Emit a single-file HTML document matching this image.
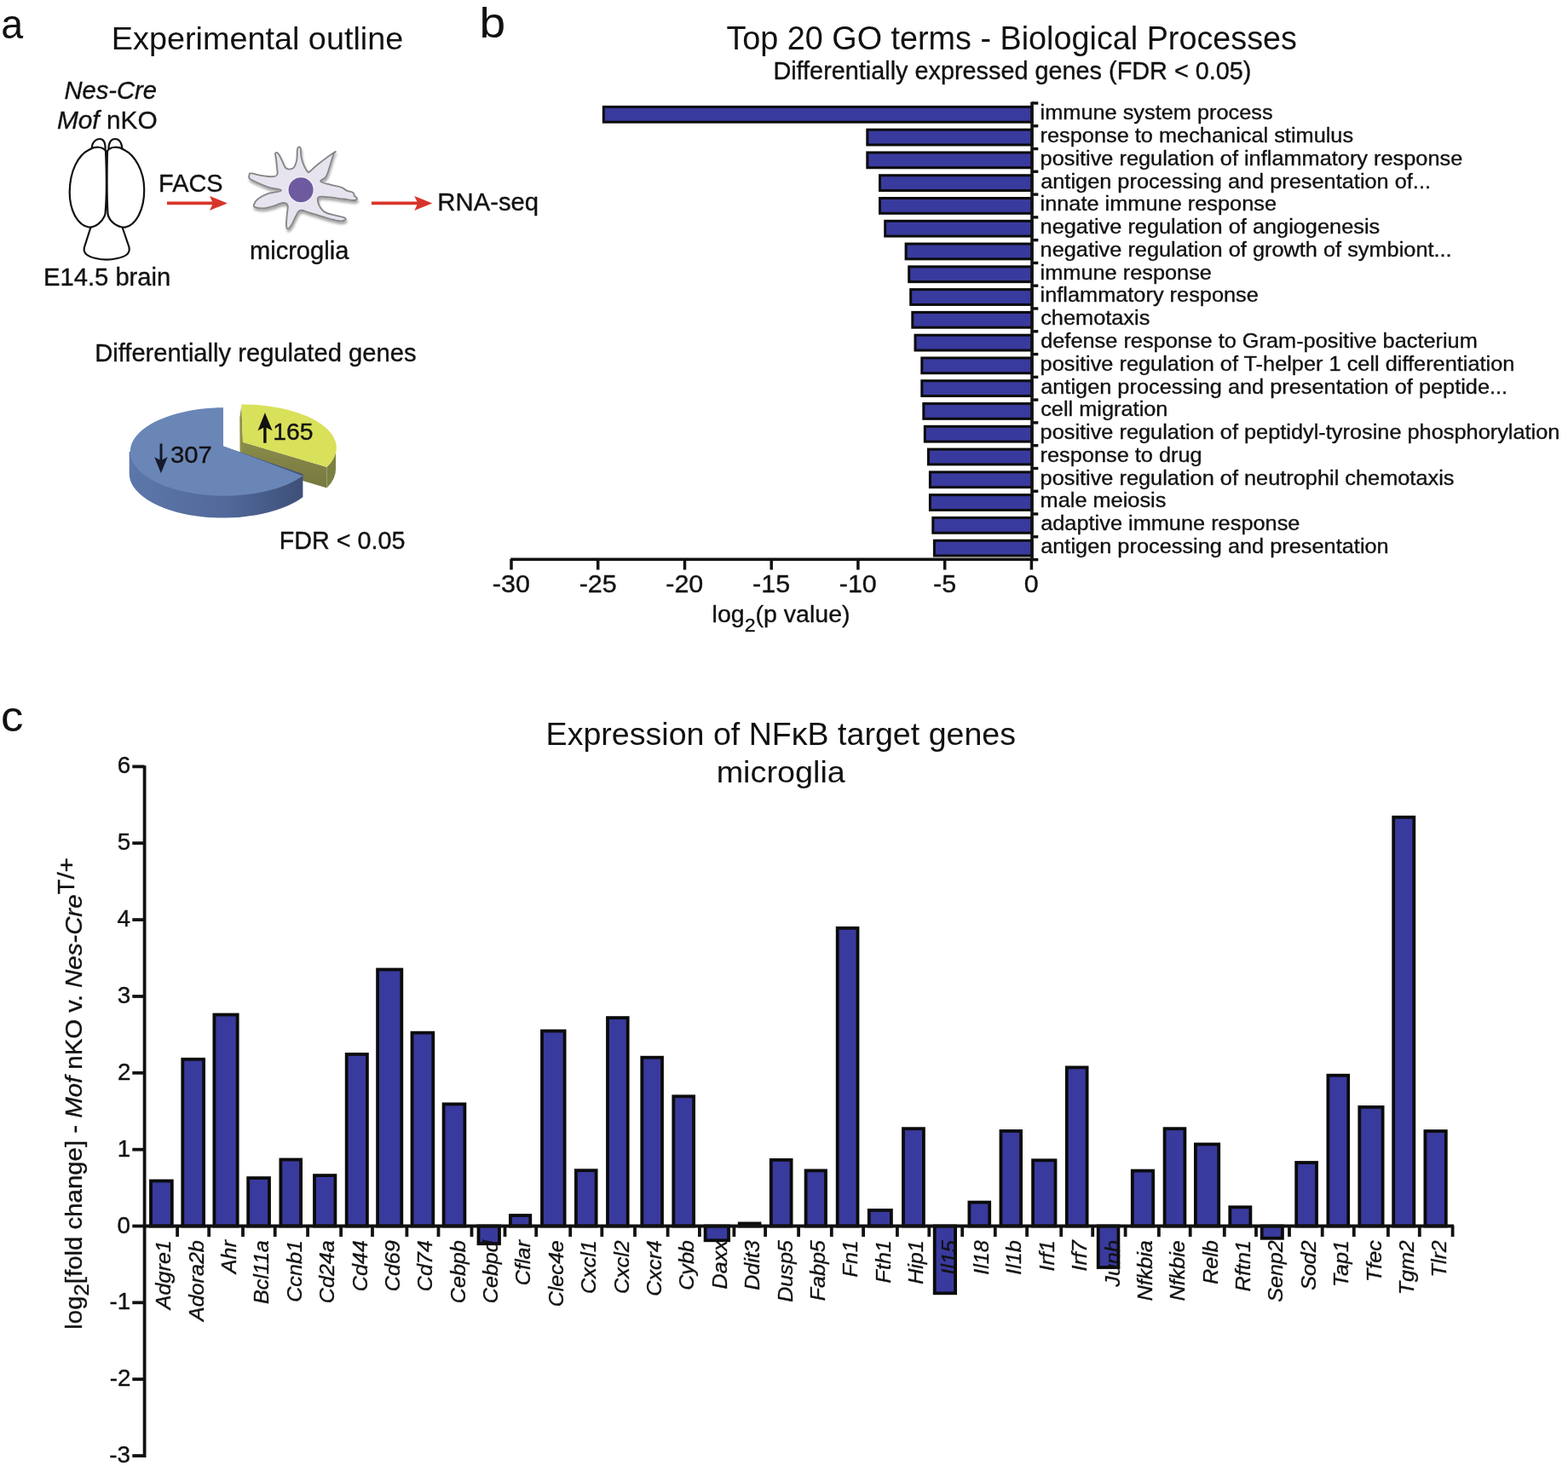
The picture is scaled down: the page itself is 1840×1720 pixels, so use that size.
<!DOCTYPE html>
<html><head><meta charset="utf-8"><title>Figure</title>
<style>
html,body{margin:0;padding:0;background:#fff;}
svg{display:block;}
.t{font-family:"Liberation Sans", Arial, Helvetica, sans-serif;fill:#111;}
.s{stroke:#111;stroke-width:0.35px;}
</style></head>
<body>
<svg width="1840" height="1720" viewBox="0 0 1840 1720">
<rect width="1840" height="1720" fill="#fff"/>
<text class="t" font-size="49" transform="translate(1.14,44.60) scale(0.9511,1)">a</text>
<text class="t" font-size="50" transform="translate(562.42,43.60) scale(1.1022,1)">b</text>
<text class="t" font-size="50" transform="translate(0.89,858.30) scale(1.0575,1)">c</text>
<text class="t" font-size="37.5" transform="translate(130.77,57.70) scale(1.0085,1)">Experimental outline</text>
<text class="t s" font-size="29.5" transform="translate(75.42,115.90) scale(0.9896,1)"><tspan font-style="italic">Nes-Cre</tspan></text>
<text class="t s" font-size="29.5" transform="translate(66.90,150.80) scale(1.0125,1)"><tspan font-style="italic">Mof</tspan> nKO</text>
<text class="t s" font-size="29.5" transform="translate(186.09,224.80) scale(0.9794,1)">FACS</text>
<text class="t s" font-size="29.5" transform="translate(513.36,246.60) scale(0.9927,1)">RNA-seq</text>
<text class="t s" font-size="29.5" transform="translate(50.96,335.00) scale(0.9903,1)">E14.5 brain</text>
<text class="t s" font-size="29" transform="translate(292.91,303.50) scale(1.0043,1)">microglia</text>
<text class="t s" font-size="29.5" transform="translate(111.16,423.80) scale(0.9894,1)">Differentially regulated genes</text>
<text class="t s" font-size="29.2" transform="translate(327.70,643.70) scale(0.9844,1)">FDR &lt; 0.05</text>
<g fill="#fff" stroke="#111" stroke-width="2.2" stroke-linejoin="round">
<path d="M108,175.5 C107,168 112,163 117,163 C122,163 124,168 123.5,176 Z"/>
<path d="M127.5,176 C127,168 130,163 135,163 C140,163 143,168 143.5,175.5 Z"/>
<path d="M106.5,266.5 L99,290 C97,298 104,301 112,303 C120,305 130,305 138,303 C147,301 153,298 151.5,290 L143.5,266.5"/>
<path d="M124,177 C120,172 112,171 104,176 C92,182 82,200 81.7,225 C81.5,245 90,264 104,266.5 C112,267 121,260 123.5,251 C125,235 125,200 124,177 Z"/>
<path d="M126,177 C130,172 138,171 146,176 C158,182 169,200 169.2,222 C169.5,245 160,264 147,266.7 C138,267 128,260 126.5,251 C125.5,235 125.5,200 126,177 Z"/>
</g>
<line x1="196" y1="238.4" x2="255" y2="238.4" stroke="#d8352a" stroke-width="3.8"/><path d="M267,238.4 L246,229.9 L250,238.4 L246,246.9 Z" fill="#d8352a"/>
<line x1="436" y1="238.4" x2="495.3" y2="238.4" stroke="#d8352a" stroke-width="3.8"/><path d="M507.3,238.4 L486.3,229.9 L490.3,238.4 L486.3,246.9 Z" fill="#d8352a"/>
<defs><filter id="sh" x="-20%" y="-20%" width="140%" height="140%"><feGaussianBlur in="SourceAlpha" stdDeviation="1.6"/><feOffset dx="1" dy="2.5"/><feComponentTransfer><feFuncA type="linear" slope="0.35"/></feComponentTransfer><feMerge><feMergeNode/><feMergeNode in="SourceGraphic"/></feMerge></filter><linearGradient id="bside" x1="0" x2="1" y1="0" y2="0"><stop offset="0" stop-color="#5b77a9"/><stop offset="0.55" stop-color="#52699a"/><stop offset="1" stop-color="#3e5079"/></linearGradient><linearGradient id="yside" x1="0" x2="0" y1="0" y2="1"><stop offset="0" stop-color="#8a8c4b"/><stop offset="1" stop-color="#76783f"/></linearGradient></defs>
<path d="M292.6,205.3 C292.9,204.0 291.9,203.2 294.9,203.4 C297.9,203.6 302.6,205.3 307.8,206.1 C313.0,206.9 317.3,207.5 320.8,207.2 C324.3,206.9 324.4,206.3 325.3,204.6 C326.2,202.9 325.6,202.5 325.3,198.5 C325.0,194.5 324.3,188.5 323.8,184.8 C323.3,181.1 322.7,181.3 323.0,180.2 C323.3,179.1 324.4,178.8 325.3,179.1 C326.2,179.4 326.4,179.7 327.6,181.7 C328.8,183.7 329.9,186.2 331.4,189.3 C332.9,192.4 333.4,195.2 335.2,197.0 C337.0,198.8 338.5,198.7 340.5,198.5 C342.5,198.3 343.6,198.3 345.1,196.2 C346.6,194.1 347.4,191.9 348.2,187.8 C349.0,183.7 348.5,178.7 348.9,175.7 C349.3,172.7 349.6,172.9 350.4,172.6 C351.2,172.3 352.1,171.8 352.7,174.1 C353.3,176.4 352.7,180.0 353.5,184.0 C354.3,188.0 355.0,190.4 356.5,193.9 C358.0,197.4 359.6,200.1 361.1,201.5 C362.6,202.9 361.8,202.5 364.1,200.8 C366.4,199.1 366.9,197.6 372.5,193.2 C378.1,188.8 388.6,180.8 392.3,178.7 C396.0,176.6 392.0,178.7 390.8,182.5 C389.6,186.3 387.9,192.7 386.2,197.7 C384.5,202.7 384.4,204.6 382.4,207.6 C380.4,210.6 375.2,211.1 376.3,212.9 C377.4,214.7 382.8,215.3 387.7,216.7 C392.6,218.1 396.8,218.4 400.6,219.8 C404.4,221.2 404.0,222.4 406.7,223.6 C409.4,224.8 412.5,224.7 414.3,225.9 C416.1,227.1 415.0,228.3 415.9,229.7 C416.8,231.1 418.9,231.6 418.9,232.7 C418.9,233.8 419.1,234.8 415.9,235.0 C412.7,235.2 409.3,234.3 402.9,233.5 C396.5,232.7 389.7,231.7 383.9,231.2 C378.1,230.7 376.1,230.0 374.0,231.2 C371.9,232.4 372.8,234.7 373.3,237.3 C373.8,239.9 374.2,241.5 376.3,244.1 C378.4,246.7 378.3,247.9 383.9,250.2 C389.5,252.5 401.2,253.7 404.5,255.5 C407.8,257.3 404.0,259.0 400.6,259.3 C397.2,259.6 394.8,258.8 387.7,257.0 C380.6,255.2 371.9,252.2 364.9,250.2 C357.9,248.2 356.2,246.2 352.7,246.8 C349.2,247.4 349.5,249.9 347.4,253.3 C345.3,256.7 344.1,260.9 342.1,263.9 C340.1,266.9 338.7,268.5 337.5,268.5 C336.3,268.5 336.2,267.1 336.0,263.9 C335.8,260.7 336.4,257.1 336.7,252.5 C337.0,247.9 338.4,244.0 337.5,241.1 C336.6,238.2 335.1,238.0 332.2,238.0 C329.3,238.0 327.1,239.9 323.0,241.1 C318.9,242.3 316.2,243.6 311.6,244.1 C307.0,244.6 302.9,244.2 300.2,243.4 C297.5,242.6 297.4,242.3 297.9,240.3 C298.4,238.3 299.3,236.1 302.5,233.5 C305.7,230.9 308.4,229.4 313.9,227.4 C319.4,225.4 329.6,225.1 329.9,223.6 C330.2,222.1 320.6,221.5 315.4,219.8 C310.2,218.1 308.4,217.2 304.0,215.2 C299.6,213.2 295.7,211.9 293.4,209.9 C291.1,207.9 292.3,206.6 292.6,205.3 Z" fill="#e7e3ef" stroke="#858585" stroke-width="1.8" stroke-linejoin="round" filter="url(#sh)"/>
<circle cx="353.1" cy="222.8" r="16" fill="#f3f0f8" opacity="0.8"/>
<circle cx="353.1" cy="222.8" r="14.5" fill="#6d5a9f"/>
<path d="M285,518.8 L383.5,548 L383.5,572.5 L285,543 Z" fill="url(#yside)"/>
<path d="M394,525.5 A110.5,51 0 0 1 383.5,548 L383.5,572.5 A110.5,51 0 0 0 394,549.5 Z" fill="#7b8043"/>
<path d="M281.3,490 L283.3,476 L285,518.8 L285,540 L281.6,532 Z" fill="#8d8f48"/>
<path d="M285,518.8 L283.3,474.5 A110.5,51 0 0 1 383.5,548 Z" fill="#d9e05a"/>
<path d="M151.7,530 L262,523.5 L355.4,556.3 L355.4,583.3 A110.3,51.8 0 0 1 151.7,555 Z" fill="url(#bside)"/>
<path d="M262,523.5 L262,478.2 A110.3,51.8 0 1 0 355.4,558.3 Z" fill="#6a86b7"/>
<path d="M188.9,555.3 L181.2,536.2 L187.5,539.6 L187.5,520.6 L190.5,520.6 L190.5,539.6 L196.7,536 Z" fill="#151a2b"/>
<path d="M310.9,484.3 L302.6,505.2 L309.2,501.8 L309.2,519.8 L312.6,519.8 L312.6,501.8 L319.6,505.2 Z" fill="#111"/>
<text class="t s" font-size="28" transform="translate(199.93,542.50) scale(1.0476,1)" fill="#141a2c">307</text>
<text class="t s" font-size="28.5" transform="translate(320.17,516.40) scale(0.9960,1)">165</text>
<text class="t" font-size="38" transform="translate(852.44,58.00) scale(0.9941,1)">Top 20 GO terms - Biological Processes</text>
<text class="t s" font-size="29" transform="translate(907.39,92.60) scale(0.9945,1)">Differentially expressed genes (FDR &lt; 0.05)</text>
<rect x="708.30" y="125.40" width="502.70" height="17.80" fill="#393a9d" stroke="#0b0b0b" stroke-width="3.0"/>
<rect x="1017.80" y="152.18" width="193.20" height="17.80" fill="#393a9d" stroke="#0b0b0b" stroke-width="3.0"/>
<rect x="1017.80" y="178.96" width="193.20" height="17.80" fill="#393a9d" stroke="#0b0b0b" stroke-width="3.0"/>
<rect x="1032.50" y="205.74" width="178.50" height="17.80" fill="#393a9d" stroke="#0b0b0b" stroke-width="3.0"/>
<rect x="1032.50" y="232.52" width="178.50" height="17.80" fill="#393a9d" stroke="#0b0b0b" stroke-width="3.0"/>
<rect x="1038.70" y="259.30" width="172.30" height="17.80" fill="#393a9d" stroke="#0b0b0b" stroke-width="3.0"/>
<rect x="1063.10" y="286.08" width="147.90" height="17.80" fill="#393a9d" stroke="#0b0b0b" stroke-width="3.0"/>
<rect x="1066.70" y="312.86" width="144.30" height="17.80" fill="#393a9d" stroke="#0b0b0b" stroke-width="3.0"/>
<rect x="1068.70" y="339.64" width="142.30" height="17.80" fill="#393a9d" stroke="#0b0b0b" stroke-width="3.0"/>
<rect x="1070.80" y="366.42" width="140.20" height="17.80" fill="#393a9d" stroke="#0b0b0b" stroke-width="3.0"/>
<rect x="1074.00" y="393.20" width="137.00" height="17.80" fill="#393a9d" stroke="#0b0b0b" stroke-width="3.0"/>
<rect x="1081.80" y="419.98" width="129.20" height="17.80" fill="#393a9d" stroke="#0b0b0b" stroke-width="3.0"/>
<rect x="1081.80" y="446.76" width="129.20" height="17.80" fill="#393a9d" stroke="#0b0b0b" stroke-width="3.0"/>
<rect x="1083.80" y="473.54" width="127.20" height="17.80" fill="#393a9d" stroke="#0b0b0b" stroke-width="3.0"/>
<rect x="1085.30" y="500.32" width="125.70" height="17.80" fill="#393a9d" stroke="#0b0b0b" stroke-width="3.0"/>
<rect x="1089.40" y="527.10" width="121.60" height="17.80" fill="#393a9d" stroke="#0b0b0b" stroke-width="3.0"/>
<rect x="1091.40" y="553.88" width="119.60" height="17.80" fill="#393a9d" stroke="#0b0b0b" stroke-width="3.0"/>
<rect x="1091.40" y="580.66" width="119.60" height="17.80" fill="#393a9d" stroke="#0b0b0b" stroke-width="3.0"/>
<rect x="1094.80" y="607.44" width="116.20" height="17.80" fill="#393a9d" stroke="#0b0b0b" stroke-width="3.0"/>
<rect x="1096.40" y="634.22" width="114.60" height="17.80" fill="#393a9d" stroke="#0b0b0b" stroke-width="3.0"/>
<text class="t s" font-size="24.6" transform="translate(1220.55,140.19) scale(1.0302,1)">immune system process</text>
<text class="t s" font-size="24.6" transform="translate(1220.55,166.97) scale(1.0302,1)">response to mechanical stimulus</text>
<text class="t s" font-size="24.6" transform="translate(1220.55,193.75) scale(1.0302,1)">positive regulation of inflammatory response</text>
<text class="t s" font-size="24.6" transform="translate(1221.19,220.53) scale(1.0302,1)">antigen processing and presentation of...</text>
<text class="t s" font-size="24.6" transform="translate(1220.55,247.31) scale(1.0302,1)">innate immune response</text>
<text class="t s" font-size="24.6" transform="translate(1220.55,274.09) scale(1.0302,1)">negative regulation of angiogenesis</text>
<text class="t s" font-size="24.6" transform="translate(1220.55,300.87) scale(1.0302,1)">negative regulation of growth of symbiont...</text>
<text class="t s" font-size="24.6" transform="translate(1220.55,327.65) scale(1.0302,1)">immune response</text>
<text class="t s" font-size="24.6" transform="translate(1220.55,354.43) scale(1.0302,1)">inflammatory response</text>
<text class="t s" font-size="24.6" transform="translate(1221.19,381.21) scale(1.0302,1)">chemotaxis</text>
<text class="t s" font-size="24.6" transform="translate(1221.19,407.99) scale(1.0302,1)">defense response to Gram-positive bacterium</text>
<text class="t s" font-size="24.6" transform="translate(1220.55,434.77) scale(1.0302,1)">positive regulation of T-helper 1 cell differentiation</text>
<text class="t s" font-size="24.6" transform="translate(1221.19,461.55) scale(1.0302,1)">antigen processing and presentation of peptide...</text>
<text class="t s" font-size="24.6" transform="translate(1221.19,488.33) scale(1.0302,1)">cell migration</text>
<text class="t s" font-size="24.6" transform="translate(1220.55,515.11) scale(1.0302,1)">positive regulation of peptidyl-tyrosine phosphorylation</text>
<text class="t s" font-size="24.6" transform="translate(1220.55,541.89) scale(1.0302,1)">response to drug</text>
<text class="t s" font-size="24.6" transform="translate(1220.55,568.67) scale(1.0302,1)">positive regulation of neutrophil chemotaxis</text>
<text class="t s" font-size="24.6" transform="translate(1220.55,595.45) scale(1.0302,1)">male meiosis</text>
<text class="t s" font-size="24.6" transform="translate(1221.19,622.23) scale(1.0302,1)">adaptive immune response</text>
<text class="t s" font-size="24.6" transform="translate(1221.19,649.01) scale(1.0302,1)">antigen processing and presentation</text>
<line x1="1211.0" y1="119.5" x2="1211.0" y2="658" stroke="#111" stroke-width="3.5"/>
<line x1="1211.0" y1="121.0" x2="1218.3" y2="121.0" stroke="#111" stroke-width="3.4"/>
<line x1="1211.0" y1="147.8" x2="1218.3" y2="147.8" stroke="#111" stroke-width="3.4"/>
<line x1="1211.0" y1="174.6" x2="1218.3" y2="174.6" stroke="#111" stroke-width="3.4"/>
<line x1="1211.0" y1="201.3" x2="1218.3" y2="201.3" stroke="#111" stroke-width="3.4"/>
<line x1="1211.0" y1="228.1" x2="1218.3" y2="228.1" stroke="#111" stroke-width="3.4"/>
<line x1="1211.0" y1="254.9" x2="1218.3" y2="254.9" stroke="#111" stroke-width="3.4"/>
<line x1="1211.0" y1="281.7" x2="1218.3" y2="281.7" stroke="#111" stroke-width="3.4"/>
<line x1="1211.0" y1="308.5" x2="1218.3" y2="308.5" stroke="#111" stroke-width="3.4"/>
<line x1="1211.0" y1="335.2" x2="1218.3" y2="335.2" stroke="#111" stroke-width="3.4"/>
<line x1="1211.0" y1="362.0" x2="1218.3" y2="362.0" stroke="#111" stroke-width="3.4"/>
<line x1="1211.0" y1="388.8" x2="1218.3" y2="388.8" stroke="#111" stroke-width="3.4"/>
<line x1="1211.0" y1="415.6" x2="1218.3" y2="415.6" stroke="#111" stroke-width="3.4"/>
<line x1="1211.0" y1="442.4" x2="1218.3" y2="442.4" stroke="#111" stroke-width="3.4"/>
<line x1="1211.0" y1="469.1" x2="1218.3" y2="469.1" stroke="#111" stroke-width="3.4"/>
<line x1="1211.0" y1="495.9" x2="1218.3" y2="495.9" stroke="#111" stroke-width="3.4"/>
<line x1="1211.0" y1="522.7" x2="1218.3" y2="522.7" stroke="#111" stroke-width="3.4"/>
<line x1="1211.0" y1="549.5" x2="1218.3" y2="549.5" stroke="#111" stroke-width="3.4"/>
<line x1="1211.0" y1="576.3" x2="1218.3" y2="576.3" stroke="#111" stroke-width="3.4"/>
<line x1="1211.0" y1="603.0" x2="1218.3" y2="603.0" stroke="#111" stroke-width="3.4"/>
<line x1="1211.0" y1="629.8" x2="1218.3" y2="629.8" stroke="#111" stroke-width="3.4"/>
<line x1="1211.0" y1="656.6" x2="1218.3" y2="656.6" stroke="#111" stroke-width="3.4"/>
<line x1="599.2" y1="656.2" x2="1212.8" y2="656.2" stroke="#111" stroke-width="3.5"/>
<line x1="600.0" y1="656" x2="600.0" y2="668.5" stroke="#111" stroke-width="3.5"/>
<text class="t s" font-size="29" transform="translate(577.85,694.80) scale(1.0500,1)">-30</text>
<line x1="701.7" y1="656" x2="701.7" y2="668.5" stroke="#111" stroke-width="3.5"/>
<text class="t s" font-size="29" transform="translate(679.66,694.80) scale(1.0500,1)">-25</text>
<line x1="803.5" y1="656" x2="803.5" y2="668.5" stroke="#111" stroke-width="3.5"/>
<text class="t s" font-size="29" transform="translate(781.31,694.80) scale(1.0500,1)">-20</text>
<line x1="905.2" y1="656" x2="905.2" y2="668.5" stroke="#111" stroke-width="3.5"/>
<text class="t s" font-size="29" transform="translate(883.12,694.80) scale(1.0500,1)">-15</text>
<line x1="1006.9" y1="656" x2="1006.9" y2="668.5" stroke="#111" stroke-width="3.5"/>
<text class="t s" font-size="29" transform="translate(984.78,694.80) scale(1.0500,1)">-10</text>
<line x1="1108.7" y1="656" x2="1108.7" y2="668.5" stroke="#111" stroke-width="3.5"/>
<text class="t s" font-size="29" transform="translate(1095.04,694.80) scale(1.0500,1)">-5</text>
<line x1="1210.4" y1="656" x2="1210.4" y2="668.5" stroke="#111" stroke-width="3.5"/>
<text class="t s" font-size="29" transform="translate(1201.87,694.80) scale(1.0500,1)">0</text>
<text class="t s" font-size="27.7" transform="translate(835.6,729.7) scale(1.03,1)">log<tspan font-size="22.5" dy="11.7">2</tspan><tspan dy="-11.7">(p value)</tspan></text>
<text class="t" font-size="37.5" transform="translate(640.59,873.60) scale(1.0026,1)">Expression of NFκB target genes</text>
<text class="t" font-size="35.5" transform="translate(840.64,917.80) scale(1.0652,1)">microglia</text>
<line x1="169.6" y1="898.2" x2="169.6" y2="1710" stroke="#111" stroke-width="3.8"/>
<line x1="155.3" y1="1708.0" x2="169.6" y2="1708.0" stroke="#111" stroke-width="3.8"/>
<text class="t s" font-size="27" transform="translate(128.36,1716.05) scale(1.0300,1)">-3</text>
<line x1="155.3" y1="1618.2" x2="169.6" y2="1618.2" stroke="#111" stroke-width="3.8"/>
<text class="t s" font-size="27" transform="translate(128.64,1626.20) scale(1.0300,1)">-2</text>
<line x1="155.3" y1="1528.3" x2="169.6" y2="1528.3" stroke="#111" stroke-width="3.8"/>
<text class="t s" font-size="27" transform="translate(128.50,1536.35) scale(1.0300,1)">-1</text>
<line x1="155.3" y1="1438.5" x2="169.6" y2="1438.5" stroke="#111" stroke-width="3.8"/>
<text class="t s" font-size="27" transform="translate(137.54,1446.50) scale(1.0300,1)">0</text>
<line x1="155.3" y1="1348.7" x2="169.6" y2="1348.7" stroke="#111" stroke-width="3.8"/>
<text class="t s" font-size="27" transform="translate(137.82,1356.65) scale(1.0300,1)">1</text>
<line x1="155.3" y1="1258.8" x2="169.6" y2="1258.8" stroke="#111" stroke-width="3.8"/>
<text class="t s" font-size="27" transform="translate(137.96,1266.80) scale(1.0300,1)">2</text>
<line x1="155.3" y1="1169.0" x2="169.6" y2="1169.0" stroke="#111" stroke-width="3.8"/>
<text class="t s" font-size="27" transform="translate(137.68,1176.95) scale(1.0300,1)">3</text>
<line x1="155.3" y1="1079.1" x2="169.6" y2="1079.1" stroke="#111" stroke-width="3.8"/>
<text class="t s" font-size="27" transform="translate(137.40,1087.10) scale(1.0300,1)">4</text>
<line x1="155.3" y1="989.2" x2="169.6" y2="989.2" stroke="#111" stroke-width="3.8"/>
<text class="t s" font-size="27" transform="translate(137.68,997.25) scale(1.0300,1)">5</text>
<line x1="155.3" y1="899.4" x2="169.6" y2="899.4" stroke="#111" stroke-width="3.8"/>
<text class="t s" font-size="27" transform="translate(137.68,907.40) scale(1.0300,1)">6</text>
<rect x="177.00" y="1385.50" width="24.80" height="53.00" fill="#393a9d" stroke="#0b0b0b" stroke-width="3.8"/>
<rect x="214.30" y="1242.80" width="24.80" height="195.70" fill="#393a9d" stroke="#0b0b0b" stroke-width="3.8"/>
<rect x="251.40" y="1190.50" width="27.30" height="248.00" fill="#393a9d" stroke="#0b0b0b" stroke-width="3.8"/>
<rect x="291.20" y="1382.10" width="24.80" height="56.40" fill="#393a9d" stroke="#0b0b0b" stroke-width="3.8"/>
<rect x="329.40" y="1360.50" width="23.70" height="78.00" fill="#393a9d" stroke="#0b0b0b" stroke-width="3.8"/>
<rect x="369.00" y="1379.10" width="24.40" height="59.40" fill="#393a9d" stroke="#0b0b0b" stroke-width="3.8"/>
<rect x="406.70" y="1236.90" width="24.20" height="201.60" fill="#393a9d" stroke="#0b0b0b" stroke-width="3.8"/>
<rect x="443.10" y="1137.50" width="28.20" height="301.00" fill="#393a9d" stroke="#0b0b0b" stroke-width="3.8"/>
<rect x="483.50" y="1211.70" width="24.80" height="226.80" fill="#393a9d" stroke="#0b0b0b" stroke-width="3.8"/>
<rect x="520.60" y="1295.40" width="24.80" height="143.10" fill="#393a9d" stroke="#0b0b0b" stroke-width="3.8"/>
<rect x="561.50" y="1438.50" width="24.50" height="20.70" fill="#393a9d" stroke="#0b0b0b" stroke-width="3.8"/>
<rect x="598.90" y="1426.00" width="23.40" height="12.50" fill="#393a9d" stroke="#0b0b0b" stroke-width="3.8"/>
<rect x="636.00" y="1209.60" width="26.60" height="228.90" fill="#393a9d" stroke="#0b0b0b" stroke-width="3.8"/>
<rect x="675.90" y="1373.20" width="23.70" height="65.30" fill="#393a9d" stroke="#0b0b0b" stroke-width="3.8"/>
<rect x="713.00" y="1194.10" width="23.70" height="244.40" fill="#393a9d" stroke="#0b0b0b" stroke-width="3.8"/>
<rect x="753.30" y="1240.70" width="23.70" height="197.80" fill="#393a9d" stroke="#0b0b0b" stroke-width="3.8"/>
<rect x="790.30" y="1286.30" width="23.80" height="152.20" fill="#393a9d" stroke="#0b0b0b" stroke-width="3.8"/>
<rect x="827.60" y="1438.50" width="27.50" height="16.80" fill="#393a9d" stroke="#0b0b0b" stroke-width="3.8"/>
<rect x="867.70" y="1435.40" width="23.80" height="3.10" fill="#393a9d" stroke="#0b0b0b" stroke-width="3.8"/>
<rect x="904.80" y="1360.90" width="23.80" height="77.60" fill="#393a9d" stroke="#0b0b0b" stroke-width="3.8"/>
<rect x="945.60" y="1373.40" width="23.40" height="65.10" fill="#393a9d" stroke="#0b0b0b" stroke-width="3.8"/>
<rect x="982.70" y="1088.90" width="23.80" height="349.60" fill="#393a9d" stroke="#0b0b0b" stroke-width="3.8"/>
<rect x="1019.80" y="1419.90" width="26.10" height="18.60" fill="#393a9d" stroke="#0b0b0b" stroke-width="3.8"/>
<rect x="1060.00" y="1324.20" width="23.90" height="114.30" fill="#393a9d" stroke="#0b0b0b" stroke-width="3.8"/>
<rect x="1096.70" y="1438.50" width="24.40" height="78.80" fill="#393a9d" stroke="#0b0b0b" stroke-width="3.8"/>
<rect x="1137.40" y="1410.60" width="23.80" height="27.90" fill="#393a9d" stroke="#0b0b0b" stroke-width="3.8"/>
<rect x="1174.50" y="1327.00" width="23.60" height="111.50" fill="#393a9d" stroke="#0b0b0b" stroke-width="3.8"/>
<rect x="1212.10" y="1361.30" width="26.40" height="77.20" fill="#393a9d" stroke="#0b0b0b" stroke-width="3.8"/>
<rect x="1251.80" y="1252.40" width="23.80" height="186.10" fill="#393a9d" stroke="#0b0b0b" stroke-width="3.8"/>
<rect x="1288.70" y="1438.50" width="23.70" height="48.50" fill="#393a9d" stroke="#0b0b0b" stroke-width="3.8"/>
<rect x="1328.80" y="1373.60" width="24.40" height="64.90" fill="#393a9d" stroke="#0b0b0b" stroke-width="3.8"/>
<rect x="1366.60" y="1324.20" width="23.80" height="114.30" fill="#393a9d" stroke="#0b0b0b" stroke-width="3.8"/>
<rect x="1402.90" y="1342.50" width="27.30" height="96.00" fill="#393a9d" stroke="#0b0b0b" stroke-width="3.8"/>
<rect x="1443.30" y="1416.30" width="24.10" height="22.20" fill="#393a9d" stroke="#0b0b0b" stroke-width="3.8"/>
<rect x="1480.70" y="1438.50" width="24.20" height="14.30" fill="#393a9d" stroke="#0b0b0b" stroke-width="3.8"/>
<rect x="1521.20" y="1364.00" width="23.80" height="74.50" fill="#393a9d" stroke="#0b0b0b" stroke-width="3.8"/>
<rect x="1558.40" y="1261.70" width="23.80" height="176.80" fill="#393a9d" stroke="#0b0b0b" stroke-width="3.8"/>
<rect x="1595.30" y="1298.90" width="27.30" height="139.60" fill="#393a9d" stroke="#0b0b0b" stroke-width="3.8"/>
<rect x="1635.20" y="958.80" width="24.10" height="479.70" fill="#393a9d" stroke="#0b0b0b" stroke-width="3.8"/>
<rect x="1672.40" y="1327.10" width="24.40" height="111.40" fill="#393a9d" stroke="#0b0b0b" stroke-width="3.8"/>
<text class="t s" font-size="24.7" font-style="italic" text-anchor="end" transform="translate(200.20,1455.2) rotate(-90) scale(1.0169,1)">Adgre1</text>
<text class="t s" font-size="24.7" font-style="italic" text-anchor="end" transform="translate(238.59,1455.2) rotate(-90) scale(1.0169,1)">Adora2b</text>
<text class="t s" font-size="24.7" font-style="italic" text-anchor="end" transform="translate(276.98,1455.2) rotate(-90) scale(1.0169,1)">Ahr</text>
<text class="t s" font-size="24.7" font-style="italic" text-anchor="end" transform="translate(315.37,1455.2) rotate(-90) scale(1.0169,1)">Bcl11a</text>
<text class="t s" font-size="24.7" font-style="italic" text-anchor="end" transform="translate(353.76,1455.2) rotate(-90) scale(1.0169,1)">Ccnb1</text>
<text class="t s" font-size="24.7" font-style="italic" text-anchor="end" transform="translate(392.15,1455.2) rotate(-90) scale(1.0169,1)">Cd24a</text>
<text class="t s" font-size="24.7" font-style="italic" text-anchor="end" transform="translate(430.54,1455.2) rotate(-90) scale(1.0169,1)">Cd44</text>
<text class="t s" font-size="24.7" font-style="italic" text-anchor="end" transform="translate(468.93,1455.2) rotate(-90) scale(1.0169,1)">Cd69</text>
<text class="t s" font-size="24.7" font-style="italic" text-anchor="end" transform="translate(507.32,1455.2) rotate(-90) scale(1.0169,1)">Cd74</text>
<text class="t s" font-size="24.7" font-style="italic" text-anchor="end" transform="translate(545.71,1455.2) rotate(-90) scale(1.0169,1)">Cebpb</text>
<text class="t s" font-size="24.7" font-style="italic" text-anchor="end" transform="translate(584.10,1455.2) rotate(-90) scale(1.0169,1)">Cebpd</text>
<text class="t s" font-size="24.7" font-style="italic" text-anchor="end" transform="translate(622.49,1455.2) rotate(-90) scale(1.0169,1)">Cflar</text>
<text class="t s" font-size="24.7" font-style="italic" text-anchor="end" transform="translate(660.88,1455.2) rotate(-90) scale(1.0169,1)">Clec4e</text>
<text class="t s" font-size="24.7" font-style="italic" text-anchor="end" transform="translate(699.27,1455.2) rotate(-90) scale(1.0169,1)">Cxcl1</text>
<text class="t s" font-size="24.7" font-style="italic" text-anchor="end" transform="translate(737.66,1455.2) rotate(-90) scale(1.0169,1)">Cxcl2</text>
<text class="t s" font-size="24.7" font-style="italic" text-anchor="end" transform="translate(776.05,1455.2) rotate(-90) scale(1.0169,1)">Cxcr4</text>
<text class="t s" font-size="24.7" font-style="italic" text-anchor="end" transform="translate(814.44,1455.2) rotate(-90) scale(1.0169,1)">Cybb</text>
<text class="t s" font-size="24.7" font-style="italic" text-anchor="end" transform="translate(852.83,1455.2) rotate(-90) scale(1.0169,1)">Daxx</text>
<text class="t s" font-size="24.7" font-style="italic" text-anchor="end" transform="translate(891.22,1455.2) rotate(-90) scale(1.0169,1)">Ddit3</text>
<text class="t s" font-size="24.7" font-style="italic" text-anchor="end" transform="translate(929.61,1455.2) rotate(-90) scale(1.0169,1)">Dusp5</text>
<text class="t s" font-size="24.7" font-style="italic" text-anchor="end" transform="translate(968.00,1455.2) rotate(-90) scale(1.0169,1)">Fabp5</text>
<text class="t s" font-size="24.7" font-style="italic" text-anchor="end" transform="translate(1006.39,1455.2) rotate(-90) scale(1.0169,1)">Fn1</text>
<text class="t s" font-size="24.7" font-style="italic" text-anchor="end" transform="translate(1044.78,1455.2) rotate(-90) scale(1.0169,1)">Fth1</text>
<text class="t s" font-size="24.7" font-style="italic" text-anchor="end" transform="translate(1083.17,1455.2) rotate(-90) scale(1.0169,1)">Hip1</text>
<text class="t s" font-size="24.7" font-style="italic" text-anchor="end" transform="translate(1121.56,1455.2) rotate(-90) scale(1.0169,1)">Il15</text>
<text class="t s" font-size="24.7" font-style="italic" text-anchor="end" transform="translate(1159.95,1455.2) rotate(-90) scale(1.0169,1)">Il18</text>
<text class="t s" font-size="24.7" font-style="italic" text-anchor="end" transform="translate(1198.34,1455.2) rotate(-90) scale(1.0169,1)">Il1b</text>
<text class="t s" font-size="24.7" font-style="italic" text-anchor="end" transform="translate(1236.73,1455.2) rotate(-90) scale(1.0169,1)">Irf1</text>
<text class="t s" font-size="24.7" font-style="italic" text-anchor="end" transform="translate(1275.12,1455.2) rotate(-90) scale(1.0169,1)">Irf7</text>
<text class="t s" font-size="24.7" font-style="italic" text-anchor="end" transform="translate(1313.51,1455.2) rotate(-90) scale(1.0169,1)">Junb</text>
<text class="t s" font-size="24.7" font-style="italic" text-anchor="end" transform="translate(1351.90,1455.2) rotate(-90) scale(1.0169,1)">Nfkbia</text>
<text class="t s" font-size="24.7" font-style="italic" text-anchor="end" transform="translate(1390.29,1455.2) rotate(-90) scale(1.0169,1)">Nfkbie</text>
<text class="t s" font-size="24.7" font-style="italic" text-anchor="end" transform="translate(1428.68,1455.2) rotate(-90) scale(1.0169,1)">Relb</text>
<text class="t s" font-size="24.7" font-style="italic" text-anchor="end" transform="translate(1467.07,1455.2) rotate(-90) scale(1.0169,1)">Rftn1</text>
<text class="t s" font-size="24.7" font-style="italic" text-anchor="end" transform="translate(1505.46,1455.2) rotate(-90) scale(1.0169,1)">Senp2</text>
<text class="t s" font-size="24.7" font-style="italic" text-anchor="end" transform="translate(1543.85,1455.2) rotate(-90) scale(1.0169,1)">Sod2</text>
<text class="t s" font-size="24.7" font-style="italic" text-anchor="end" transform="translate(1582.24,1455.2) rotate(-90) scale(1.0169,1)">Tap1</text>
<text class="t s" font-size="24.7" font-style="italic" text-anchor="end" transform="translate(1620.63,1455.2) rotate(-90) scale(1.0169,1)">Tfec</text>
<text class="t s" font-size="24.7" font-style="italic" text-anchor="end" transform="translate(1659.02,1455.2) rotate(-90) scale(1.0169,1)">Tgm2</text>
<text class="t s" font-size="24.7" font-style="italic" text-anchor="end" transform="translate(1697.41,1455.2) rotate(-90) scale(1.0169,1)">Tlr2</text>
<line x1="168" y1="1438.5" x2="1706" y2="1438.5" stroke="#111" stroke-width="3.8"/>
<line x1="208.1" y1="1438" x2="208.1" y2="1451" stroke="#111" stroke-width="3.8"/>
<line x1="245.2" y1="1438" x2="245.2" y2="1451" stroke="#111" stroke-width="3.8"/>
<line x1="285.0" y1="1438" x2="285.0" y2="1451" stroke="#111" stroke-width="3.8"/>
<line x1="322.7" y1="1438" x2="322.7" y2="1451" stroke="#111" stroke-width="3.8"/>
<line x1="361.1" y1="1438" x2="361.1" y2="1451" stroke="#111" stroke-width="3.8"/>
<line x1="400.1" y1="1438" x2="400.1" y2="1451" stroke="#111" stroke-width="3.8"/>
<line x1="437.0" y1="1438" x2="437.0" y2="1451" stroke="#111" stroke-width="3.8"/>
<line x1="477.4" y1="1438" x2="477.4" y2="1451" stroke="#111" stroke-width="3.8"/>
<line x1="514.5" y1="1438" x2="514.5" y2="1451" stroke="#111" stroke-width="3.8"/>
<line x1="553.5" y1="1438" x2="553.5" y2="1451" stroke="#111" stroke-width="3.8"/>
<line x1="592.5" y1="1438" x2="592.5" y2="1451" stroke="#111" stroke-width="3.8"/>
<line x1="629.2" y1="1438" x2="629.2" y2="1451" stroke="#111" stroke-width="3.8"/>
<line x1="669.2" y1="1438" x2="669.2" y2="1451" stroke="#111" stroke-width="3.8"/>
<line x1="706.3" y1="1438" x2="706.3" y2="1451" stroke="#111" stroke-width="3.8"/>
<line x1="745.0" y1="1438" x2="745.0" y2="1451" stroke="#111" stroke-width="3.8"/>
<line x1="783.6" y1="1438" x2="783.6" y2="1451" stroke="#111" stroke-width="3.8"/>
<line x1="820.9" y1="1438" x2="820.9" y2="1451" stroke="#111" stroke-width="3.8"/>
<line x1="861.4" y1="1438" x2="861.4" y2="1451" stroke="#111" stroke-width="3.8"/>
<line x1="898.1" y1="1438" x2="898.1" y2="1451" stroke="#111" stroke-width="3.8"/>
<line x1="937.1" y1="1438" x2="937.1" y2="1451" stroke="#111" stroke-width="3.8"/>
<line x1="975.8" y1="1438" x2="975.8" y2="1451" stroke="#111" stroke-width="3.8"/>
<line x1="1013.1" y1="1438" x2="1013.1" y2="1451" stroke="#111" stroke-width="3.8"/>
<line x1="1052.9" y1="1438" x2="1052.9" y2="1451" stroke="#111" stroke-width="3.8"/>
<line x1="1090.3" y1="1438" x2="1090.3" y2="1451" stroke="#111" stroke-width="3.8"/>
<line x1="1129.2" y1="1438" x2="1129.2" y2="1451" stroke="#111" stroke-width="3.8"/>
<line x1="1167.8" y1="1438" x2="1167.8" y2="1451" stroke="#111" stroke-width="3.8"/>
<line x1="1205.1" y1="1438" x2="1205.1" y2="1451" stroke="#111" stroke-width="3.8"/>
<line x1="1245.2" y1="1438" x2="1245.2" y2="1451" stroke="#111" stroke-width="3.8"/>
<line x1="1282.2" y1="1438" x2="1282.2" y2="1451" stroke="#111" stroke-width="3.8"/>
<line x1="1320.6" y1="1438" x2="1320.6" y2="1451" stroke="#111" stroke-width="3.8"/>
<line x1="1359.9" y1="1438" x2="1359.9" y2="1451" stroke="#111" stroke-width="3.8"/>
<line x1="1396.7" y1="1438" x2="1396.7" y2="1451" stroke="#111" stroke-width="3.8"/>
<line x1="1436.8" y1="1438" x2="1436.8" y2="1451" stroke="#111" stroke-width="3.8"/>
<line x1="1474.0" y1="1438" x2="1474.0" y2="1451" stroke="#111" stroke-width="3.8"/>
<line x1="1513.0" y1="1438" x2="1513.0" y2="1451" stroke="#111" stroke-width="3.8"/>
<line x1="1551.7" y1="1438" x2="1551.7" y2="1451" stroke="#111" stroke-width="3.8"/>
<line x1="1588.8" y1="1438" x2="1588.8" y2="1451" stroke="#111" stroke-width="3.8"/>
<line x1="1628.9" y1="1438" x2="1628.9" y2="1451" stroke="#111" stroke-width="3.8"/>
<line x1="1665.8" y1="1438" x2="1665.8" y2="1451" stroke="#111" stroke-width="3.8"/>
<line x1="1704.6" y1="1438" x2="1704.6" y2="1451" stroke="#111" stroke-width="3.8"/>
<text class="t s" font-size="28" transform="translate(95.7,1559.7) rotate(-90) scale(1.050,1)">log<tspan font-size="24.5" dy="8.5">2</tspan><tspan dy="-8.5">[fold change] - </tspan><tspan font-style="italic">Mof</tspan> nKO v. <tspan font-style="italic">Nes-Cre</tspan><tspan dy="-8.3">T/+</tspan></text>
</svg>
</body></html>
